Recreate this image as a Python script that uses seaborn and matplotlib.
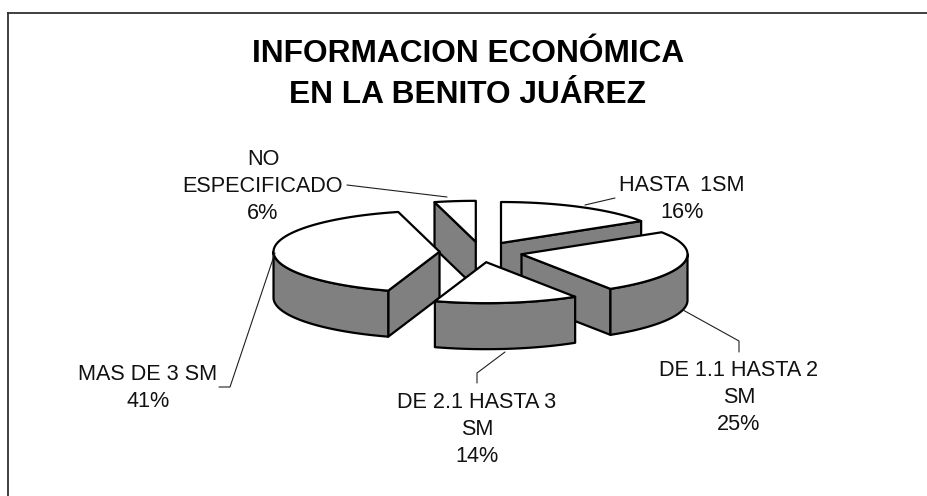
import numpy as np
import matplotlib
matplotlib.use("Agg")
import matplotlib.pyplot as plt
import seaborn as sns

# datos
categorias = ["HASTA  1SM", "DE 1.1 HASTA 2\nSM", "DE 2.1 HASTA 3\nSM", "MAS DE 3 SM", "NO\nESPECIFICADO"]
porcentajes = [16, 25, 14, 41, 6]
# tamano de cada rebanada como se ve en la figura (la de 6% esta dibujada mas angosta)
tamanos = [16, 25, 14, 41, 4]
titulo = ["INFORMACION ECONÓMICA", "EN LA BENITO JUÁREZ"]

sns.set_theme(style="white")
plt.rcParams["font.family"] = ["Liberation Sans", "DejaVu Sans"]

# centro, radios y altura del pastel en pixeles
cx, cy = 481, 252
rx, ry = 166, 41
alto = 46
sep = 0.25
gris = "#808080"
lw = 1.6

fig = plt.figure(figsize=(9.28, 4.96), dpi=100)
ax = fig.add_axes([8 / 928, 0, 920 / 928, 483 / 496])
ax.set_xlim(8, 928)
ax.set_ylim(496, 13)
ax.set_xticks([])
ax.set_yticks([])
sns.despine(ax=ax, top=False, left=False, right=True, bottom=True)
for lado in ["top", "left"]:
    ax.spines[lado].set_color("#303030")
    ax.spines[lado].set_linewidth(1.3)


def punto(x0, y0, t):
    return x0 + rx * np.sin(t), y0 - ry * np.cos(t)


def poligono(xs, ys, color):
    ax.fill(xs, ys, facecolor=color, edgecolor="black", linewidth=lw, joinstyle="round")


# angulos, sentido horario desde arriba
limites = np.radians(np.cumsum([0] + tamanos) / sum(tamanos) * 360)
rebanadas = []
for i in range(len(tamanos)):
    t0, t1 = limites[i], limites[i + 1]
    tm = (t0 + t1) / 2
    rebanadas.append((t0, t1, cx + sep * rx * np.sin(tm), cy - sep * ry * np.cos(tm)))

# de atras hacia adelante
for i in [4, 3, 0, 1, 2]:
    t0, t1, x0, y0 = rebanadas[i]
    # solo las caras de corte que miran al frente
    caras = []
    if np.sin(t0) < -1e-9:
        caras.append(t0)
    if np.sin(t1) > 1e-9:
        caras.append(t1)
    for t in caras:
        xp, yp = punto(x0, y0, t)
        poligono([x0, xp, xp, x0], [y0, yp, yp + alto, y0 + alto], gris)
    a, b = max(t0, np.pi / 2), min(t1, 3 * np.pi / 2)
    if b > a:
        ts = np.linspace(a, b, 80)
        xs, ys = punto(x0, y0, ts)
        poligono(np.r_[xs, xs[::-1]], np.r_[ys, ys[::-1] + alto], gris)
    ts = np.linspace(t0, t1, 120)
    xs, ys = punto(x0, y0, ts)
    poligono(np.r_[x0, xs], np.r_[y0, ys], "white")

# lineas guia
guias = [
    ([615, 585], [198, 205]),
    ([683, 739, 739], [310, 341, 352]),
    ([505, 477, 477], [352, 373, 383]),
    ([275, 230, 219], [253, 387, 387]),
    ([347, 447], [185, 197]),
]
for xs, ys in guias:
    ax.plot(xs, ys, color="#202020", linewidth=0.8, solid_joinstyle="miter")

# etiquetas (x centro, base de la primera linea)
pos_etiquetas = [(682, 191), (739, 376), (477, 408), (148, 380), (263, 165)]
for nombre, valor, (x, y) in zip(categorias, porcentajes, pos_etiquetas):
    lineas = nombre.split("\n") + [f"{valor}%"]
    for k, linea in enumerate(lineas):
        ax.text(x, y + 27.2 * k, linea, ha="center", va="baseline", fontsize=15.6, color="#111111")

for k, linea in enumerate(titulo):
    ax.text(468, 62 + 41 * k, linea, ha="center", va="baseline", fontsize=22.8,
            fontweight="bold", color="black")

fig.savefig("out.png", dpi=100)
